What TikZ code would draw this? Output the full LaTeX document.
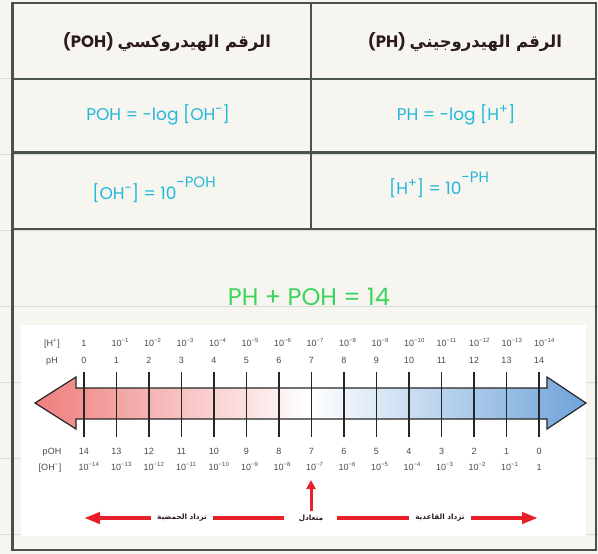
\documentclass[tikz,border=0pt]{standalone}
\usepackage{fontspec}
\usepackage{xcolor}
\usetikzlibrary{arrows.meta}
\setmainfont{Liberation Sans}
\newfontfamily\handfont{Poppins}
\newfontfamily\arabicfont[Script=Arabic]{DejaVu Sans}
\TeXXeTstate=1

\definecolor{paper}{HTML}{F7F5F0}
\definecolor{ruled}{HTML}{DCDAD5}
\definecolor{framegray}{HTML}{4A5250}
\definecolor{ink}{HTML}{2B1A1F}
\definecolor{cyanink}{HTML}{22B8DA}
\definecolor{greenink}{HTML}{3DD45C}
\definecolor{acidred}{HTML}{EE7E7B}
\definecolor{baseblue}{HTML}{6EA3D9}
\definecolor{scalegray}{HTML}{4A4A4A}
\definecolor{arrowred}{HTML}{E8202A}

\tikzset{
  frameline/.style={line width=2.6pt, draw=framegray},
  header/.style={text=ink, font=\handfont\bfseries\fontsize{16.5}{19}\selectfont},
  formula/.style={text=cyanink, font=\handfont\fontsize{17}{20}\selectfont},
  scalelbl/.style={text=scalegray, font=\fontsize{9}{10}\selectfont, inner sep=0pt},
  tickline/.style={line width=1.2pt, draw=black!85},
  trend/.style={text=ink, font=\arabicfont\bfseries\fontsize{7.3}{8}\selectfont, inner xsep=6pt},
  redbar/.style={line width=4pt, draw=arrowred},
}
\newcommand{\up}[1]{\raisebox{0.75ex}{\fontsize{13}{13}\selectfont #1}}
\newcommand{\pow}[1]{\raisebox{1.25ex}{\fontsize{15}{15}\selectfont #1}}

\begin{document}
\begin{tikzpicture}[x=1pt, y=-1pt]
  \useasboundingbox (0,0) rectangle (598,554);
  \fill[paper] (0,0) rectangle (598,554);
  % ruled notebook lines
  \foreach \y in {78,154,230,306,382,458,534}
    \draw[ruled, line width=1pt] (0,\y) -- (598,\y);
  \fill[white] (21,325) rectangle (586,536);

  % table
  \draw[frameline] (12.5,3) rectangle (596,550);
  \draw[frameline] (12.5,79) -- (596,79);
  \draw[frameline] (12.5,152.5) -- (596,152.5);
  \draw[frameline] (12.5,229) -- (596,229);
  \draw[frameline] (311,3) -- (311,229);

  \node[header] (pohhead) at (167,42) {(POH)\ {\arabicfont\beginR الرقم الهيدروكسي\endR}};
  \node[header] (phhead) at (465,42) {(PH)\ {\arabicfont\beginR الرقم الهيدروجيني\endR}};
  \node[formula] (pohlog) at (158,115) {POH = -log [OH\up{-}]};
  \node[formula] (phlog) at (456,115) {PH = -log [H\up{+}]};
  \node[formula] (ohconc) at (154,190) {[OH\up{-}] = 10\pow{-POH}};
  \node[formula] (hconc) at (439,185) {[H\up{+}] = 10\pow{-PH}};
  \node[text=greenink, font=\handfont\fontsize{24}{28}\selectfont] (sum) at (309,297) {PH + POH = 14};

  % the pH scale arrow
  \draw[line width=1.2pt, draw=black!85, left color=acidred, right color=baseblue, middle color=white]
    (35,403) -- (76,377) -- (76,388) -- (547,388) -- (547,377) -- (586,403)
    -- (547,429) -- (547,419) -- (76,419) -- (76,429) -- cycle;

  \node[scalelbl, anchor=base] (hlbl) at (52,346) {[H\textsuperscript{+}]};
  \node[scalelbl, anchor=base] (phlbl) at (52,363) {pH};
  \node[scalelbl, anchor=base] (pohlbl) at (52,454) {pOH};
  \node[scalelbl, anchor=base] (ohlbl) at (50,470) {[OH\textsuperscript{−}]};

  \foreach \k [evaluate=\k as \xk using 84+32.5*\k, evaluate=\k as \m using int(14-\k)] in {0,...,14} {
    \draw[tickline] (\xk,372) -- (\xk,437);
    \node[scalelbl, anchor=base] (ph\k) at (\xk,363) {\k};
    \node[scalelbl, anchor=base] (poh\k) at (\xk,454) {\m};
    \ifnum\k=0
      \node[scalelbl, anchor=base] (h\k) at (\xk,346) {1};
    \else
      \node[scalelbl, anchor=base west] (h\k) at (\xk-5,346) {10\textsuperscript{−\k}};
    \fi
    \ifnum\m=0
      \node[scalelbl, anchor=base] (oh\k) at (\xk,470) {1};
    \else
      \node[scalelbl, anchor=base west] (oh\k) at (\xk-5.5,470) {10\textsuperscript{−\m}};
    \fi
  }

  % acid / neutral / basic
  \node[trend] (acid) at (182,518) {\beginR تزداد الحمضية\endR};
  \node[trend] (neutral) at (311,518) {\beginR متعادل\endR};
  \node[trend] (basic) at (440,518) {\beginR تزداد القاعدية\endR};
  \coordinate (acidtip) at (84,518);
  \coordinate (basictip) at (538,518);
  \coordinate (neutraltip) at (311,480);
  \draw[redbar, -{Triangle[length=16pt, width=11pt]}] (acid.west) -- (acidtip);
  \draw[redbar, -{Triangle[length=16pt, width=11pt]}] (basic.east) -- (basictip);
  \draw[redbar, shorten >=9pt] (acid.east) -- (neutral.west);
  \draw[redbar, shorten <=8pt] (neutral.east) -- (basic.west);
  \draw[line width=3pt, draw=arrowred, -{Triangle[length=9pt, width=9pt]}] (neutral.north) -- (neutraltip);
\end{tikzpicture}
\end{document}
